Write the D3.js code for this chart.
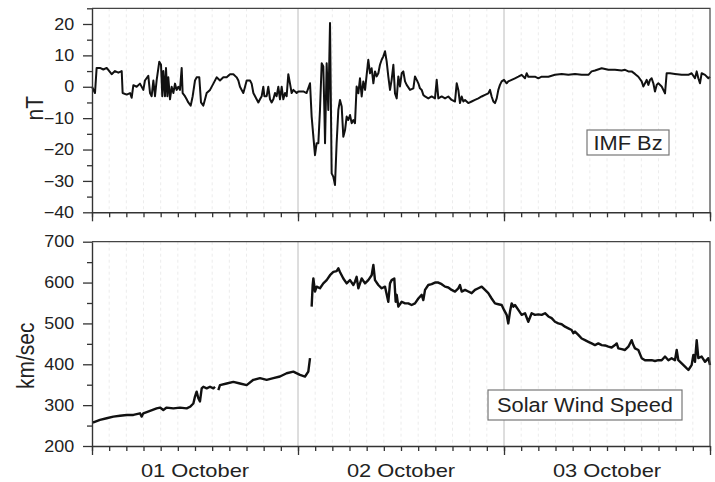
<!DOCTYPE html>
<html>
<head>
<meta charset="utf-8">
<script src="https://cdn.jsdelivr.net/npm/d3@7"></script>
<style>
  body { margin: 0; background: #fff; }
  text { font-family: Arial, "Liberation Sans", sans-serif; fill: #222; }
</style>
</head>
<body>
<svg id="chart" width="715" height="482"></svg>
<script>
// Time axis: hours since 00:00 UT on 01 October
const dayLabels = ["01 October", "02 October", "03 October"];
const dayBounds = [0, 24, 48, 72];

// IMF Bz (nT)
const bzHours = [0.0,0.35,0.54,0.93,1.32,1.71,2.29,2.68,3.07,3.46,3.57,4.04,4.43,4.62,4.82,5.20,5.59,5.98,6.17,6.56,6.76,6.95,7.15,7.34,7.53,7.84,8.04,8.19,8.31,8.50,8.62,8.78,8.89,9.09,9.28,9.48,9.67,9.86,10.06,10.25,10.45,10.56,10.83,11.03,11.22,11.50,11.73,12.00,12.19,12.50,12.70,12.97,13.17,13.36,13.75,14.14,14.52,14.91,15.30,15.69,16.08,16.47,16.85,17.05,17.24,17.44,17.63,17.83,18.02,18.41,18.60,18.80,19.18,19.38,19.57,19.77,19.96,20.08,20.35,20.54,20.74,20.93,21.13,21.32,21.51,21.71,21.90,22.10,22.29,22.49,22.68,22.87,23.07,23.26,23.46,23.84,24.04,24.62,25.00,25.40,25.59,25.79,25.98,26.17,26.37,26.56,26.76,26.95,27.07,27.15,27.34,27.53,27.73,27.84,27.92,28.12,28.31,28.50,28.70,28.89,29.09,29.28,29.48,29.67,29.86,30.06,30.25,30.45,30.64,30.83,31.03,31.22,31.42,31.61,31.81,32.00,32.19,32.39,32.58,32.78,32.97,33.17,33.36,33.55,33.75,33.94,34.14,34.33,34.52,34.72,34.91,35.11,35.30,35.50,35.69,35.88,36.08,36.27,36.47,36.66,37.05,37.44,37.63,37.83,38.02,38.21,38.41,38.60,38.80,39.18,39.57,39.96,40.16,40.35,40.74,41.13,41.51,41.90,42.29,42.49,42.68,42.87,43.07,43.26,43.46,43.84,44.23,44.62,45.01,45.40,45.79,46.17,46.37,46.56,46.76,46.95,47.15,47.34,47.53,47.73,48.00,48.31,48.50,48.89,49.28,49.67,50.06,50.45,50.64,50.83,51.61,52.00,52.39,53.17,53.94,54.72,55.50,56.27,57.05,57.83,58.21,58.60,59.38,60.16,60.93,61.71,62.10,62.49,62.87,63.26,63.65,64.04,64.23,64.43,64.62,64.82,65.01,65.20,65.40,65.59,65.79,65.98,66.37,66.76,66.95,67.34,67.92,68.70,69.48,69.86,70.25,70.45,70.64,70.83,71.03,71.42,71.81,72.00];
const bzValues = [0,-2,6,6,5.5,6,4,5,4.5,5,-2,-2.5,-2,-3.5,0.5,0,1,-1,2,3.5,-2,-3,2,-3,2,8,7,-3,5,-3,6,-3,3,-4,0,-2,1,-1,0,-1,6,-2,-3,-4,-5,-6,-3,2,3,3,-5,-6,-4,-2,-1,1,3,2,3,3,4,4,3,2,0,-1,-2,0,2,2,1,-2,-4,-5,-4,-3,0,-3,-3,0,-4,-5,-4,-2,-3,0,-4,0,-4,-2,-3,4,1,-2,-1,-2,-1.5,-1.5,-2,1.1,-9.5,-15.9,-21.8,-18,-18,-7.4,7.5,6.5,-7.4,-18,7.5,-7.4,20.3,-7.4,-27.6,-28.7,-31.3,-18,-7.4,-4.2,-6.3,-15.9,-13.8,-9.5,-10.6,-9,-11.6,-10.6,-11.6,0.1,-2.1,2.7,-3.1,1.7,-1,3.8,8.6,4.3,5.9,1.1,4.9,3.3,4.3,7,8.6,9.7,11.3,8.1,3.3,-1,2.2,7,-2.1,-3.7,3.3,0.1,4.3,4.9,1.7,0.6,-1,-0.5,3.3,2.2,1.1,-0.5,-1,-2.6,-3.1,-3.7,-3.1,-3.7,2.2,-3.7,-3.1,-3.7,-3.1,-4.2,-4.7,1.1,-1,-5.2,-3.1,-4.7,-4.2,-5.2,-4.7,-4.2,-3.7,-3.1,-2.6,-2.1,-1,-3.1,-4.7,-5.2,-3.7,-1,0.6,1.7,2.2,1.1,1.7,2.2,2.7,3.2,3.8,2.7,4.3,3.2,3.2,2.7,3.2,3.2,3.8,4.1,3.8,4.1,3.8,3.8,4.9,5.2,5.9,5.4,5.4,5.2,5.4,4.9,4.9,4.1,3.2,1.7,0.1,1.1,2.2,0.6,2.2,2.7,1.1,-1.5,0.6,1.1,0.1,-2.1,4.3,4.3,4.1,3.8,3.8,4.3,2.7,4.9,2.7,1.1,4.3,3.8,2.7,3.2];

// Solar wind speed (km/sec); null marks a data gap
const swHours = [0.0,0.16,0.93,1.71,2.49,3.26,4.04,4.82,5.59,5.79,5.98,6.76,7.53,7.92,8.31,8.70,9.48,10.25,11.03,11.42,11.81,12.00,12.19,12.39,12.58,12.78,12.97,13.36,13.75,14.14,14.33,14.50,14.72,14.91,15.69,16.47,17.24,18.02,18.80,19.57,20.35,21.13,21.90,22.68,23.46,24.23,24.82,25.20,25.40,25.50,25.59,25.71,25.79,25.98,26.17,26.56,26.95,27.34,27.73,28.12,28.50,28.70,28.89,29.28,29.67,30.06,30.45,30.64,30.83,31.03,31.42,31.81,32.19,32.58,32.78,32.97,33.36,33.75,34.14,34.52,34.72,34.91,35.22,35.38,35.50,35.69,36.08,36.47,36.85,37.24,37.63,38.02,38.41,38.60,38.80,39.18,39.57,39.96,40.35,40.74,41.13,41.51,41.90,42.29,42.68,42.87,43.07,43.46,43.84,44.23,44.62,45.01,45.40,45.79,46.17,46.56,46.95,47.34,47.73,48.00,48.31,48.50,48.70,48.89,49.09,49.28,49.67,50.06,50.45,50.83,51.22,51.61,52.00,52.39,52.78,53.17,53.55,53.94,54.33,54.72,55.11,55.50,55.88,56.08,56.27,56.66,57.05,57.44,57.83,58.21,58.60,58.99,59.38,59.77,60.16,60.54,60.93,61.13,61.32,61.71,62.10,62.49,62.87,63.07,63.26,63.65,64.04,64.43,64.82,65.20,65.59,65.98,66.37,66.76,67.15,67.53,67.92,68.12,68.31,68.70,69.09,69.48,69.86,70.06,70.25,70.45,70.64,71.03,71.42,71.81,72.00];
const swValues = [258,258,264,268,272,274,276,276,280,272,280,286,292,294,288,294,292,294,292,296,304,321,333,317,309,341,345,341,345,341,345,null,337,349,353,357,353,349,362,366,362,366,370,378,382,374,370,382,415,null,541,594,610,578,590,586,598,606,618,626,628,635,626,610,598,606,594,602,614,586,610,598,606,618,643,606,594,586,590,553,598,606,610,553,570,541,553,549,549,545,549,561,570,557,582,594,596,600,600,596,590,588,582,578,586,594,578,582,578,574,582,586,590,582,574,561,549,547,545,533,521,500,529,549,541,545,533,521,525,504,525,521,522,521,525,517,513,504,500,498,492,488,484,476,480,472,463,459,455,451,447,451,447,446,443,441,447,451,439,437,435,443,459,447,439,435,415,410,410,410,408,410,410,419,410,415,410,435,410,402,394,386,398,423,406,459,415,419,406,415,398];

const bzTicks = [20, 10, 0, -10, -20, -30, -40];
const bzMinor = [25, 15, 5, -5, -15, -25, -35];
const swTicks = [200, 300, 400, 500, 600, 700];
const swMinor = [250, 350, 450, 550, 650];

const svg = d3.select("#chart");
const left = 92, right = 710;
const x = d3.scaleLinear().domain([0, 72]).range([left, right]);
const stretch = "scale(1.12,1)";

function panel(cfg) {
  const y = d3.scaleLinear().domain(cfg.domain).range([cfg.bottom, cfg.top]);
  const g = svg.append("g");

  // faint two-hour grid
  g.append("g").selectAll("line")
    .data(d3.range(2, 72, 2).filter(h => h % 24 !== 0))
    .join("line")
    .attr("x1", d => x(d)).attr("x2", d => x(d))
    .attr("y1", cfg.top).attr("y2", cfg.bottom)
    .attr("stroke", "#ececec").attr("stroke-width", 1)
    .attr("stroke-dasharray", "3,3");

  // day separators
  g.append("g").selectAll("line")
    .data([24, 48])
    .join("line")
    .attr("x1", d => x(d)).attr("x2", d => x(d))
    .attr("y1", cfg.top).attr("y2", cfg.bottom)
    .attr("stroke", "#bcbcbc").attr("stroke-width", 1);

  // data line
  const pts = cfg.hours.map((h, i) => [h, cfg.values[i]]);
  const line = d3.line()
    .defined(d => d[1] !== null)
    .x(d => x(d[0])).y(d => y(d[1]));
  g.append("path")
    .datum(pts)
    .attr("fill", "none")
    .attr("stroke", "#111")
    .attr("stroke-width", cfg.lineWidth)
    .attr("stroke-linejoin", "round")
    .attr("d", line);

  // frame: top and right
  g.append("path")
    .attr("d", `M${left},${cfg.top}H${right}V${cfg.bottom}`)
    .attr("fill", "none").attr("stroke", "#444").attr("stroke-width", 1.2);

  // left axis
  const yMinor = g.append("g").attr("transform", `translate(${left},0)`)
    .call(d3.axisLeft(y).tickValues(cfg.minor).tickSize(5).tickFormat("").tickSizeOuter(0));
  yMinor.select(".domain").remove();
  const yAxis = g.append("g").attr("transform", `translate(${left},0)`)
    .call(d3.axisLeft(y).tickValues(cfg.ticks).tickSize(9).tickPadding(7).tickSizeOuter(0));
  yAxis.selectAll(".tick text")
    .attr("transform", stretch)
    .style("font-size", "16px")
    .style("font-family", "Arial, 'Liberation Sans', sans-serif")
    .attr("fill", "#222");

  // bottom axis
  const xMinor = g.append("g").attr("transform", `translate(0,${cfg.bottom})`)
    .call(d3.axisBottom(x).tickValues(d3.range(0, 73, 2)).tickSize(5).tickFormat("").tickSizeOuter(0));
  xMinor.select(".domain").remove();
  g.append("g").attr("transform", `translate(0,${cfg.bottom})`)
    .call(d3.axisBottom(x).tickValues(dayBounds).tickSize(9).tickFormat("").tickSizeOuter(0));

  g.selectAll(".domain").attr("stroke", "#333").attr("stroke-width", 1.4);
  g.selectAll(".tick line").attr("stroke", "#333").attr("stroke-width", 1.3);

  // y title
  g.append("text")
    .attr("transform", `translate(${cfg.titleX},${(cfg.top + cfg.bottom) / 2 + cfg.titleShift}) rotate(-90) scale(1,1.12)`)
    .attr("text-anchor", "middle")
    .style("font-size", "21px")
    .text(cfg.title);

  // legend box
  const lg = g.append("g").attr("transform", `translate(${cfg.legend.x},${cfg.legend.y})`);
  lg.append("rect")
    .attr("width", cfg.legend.w).attr("height", cfg.legend.h)
    .attr("fill", "#fff").attr("stroke", "#777").attr("stroke-width", 1.2);
  lg.append("text")
    .attr("transform", `translate(${cfg.legend.w / 2},${cfg.legend.h / 2 + 7}) ${stretch}`)
    .attr("text-anchor", "middle")
    .style("font-size", "19.5px")
    .text(cfg.legend.label);

  return y;
}

panel({
  top: 8.3, bottom: 212.3, domain: [-40, 25],
  hours: bzHours, values: bzValues, lineWidth: 2,
  ticks: bzTicks, minor: bzMinor,
  title: "nT", titleX: 43, titleShift: -2,
  legend: { x: 587, y: 130, w: 82, h: 25, label: "IMF Bz" }
});

panel({
  top: 241.7, bottom: 446, domain: [200, 700],
  hours: swHours, values: swValues, lineWidth: 2.4,
  ticks: swTicks, minor: swMinor,
  title: "km/sec", titleX: 34, titleShift: 12,
  legend: { x: 488, y: 390, w: 194, h: 30, label: "Solar Wind Speed" }
});

// day labels under the lower panel
svg.append("g").selectAll("text")
  .data(dayLabels)
  .join("text")
  .attr("transform", (d, i) => `translate(${x(12 + 24 * i)},477) scale(1.25,1)`)
  .attr("text-anchor", "middle")
  .style("font-size", "17.5px")
  .text(d => d);
</script>
</body>
</html>
